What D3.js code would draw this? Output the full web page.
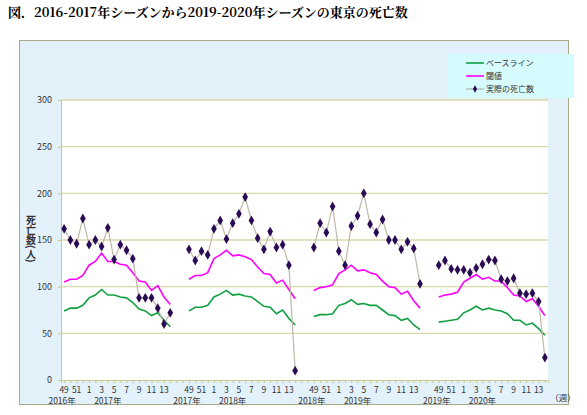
<!DOCTYPE html>
<html><head><meta charset="utf-8">
<script src="https://cdn.jsdelivr.net/npm/d3@7"></script>
<style>body{margin:0;background:#fff}</style>
</head><body>
<svg id="c" width="587" height="415"></svg>
<script>
// weeks of each season
var weeks = [49,50,51,52,1,2,3,4,5,6,7,8,9,10,11,12,13,14];
var seasonYears = [["2016年","2017年"],["2017年","2018年"],["2018年","2019年"],["2019年","2020年"]];
var actual = [
  [162,150,146,173,145,150,143,163,129,145,139,130,88,88,88,77,60,72],
  [140,128,138,134,162,171,151,168,178,196,171,152,140,159,142,145,123,10],
  [142,168,158,186,138,123,165,176,200,167,158,172,150,150,140,148,141,103],
  [123,128,119,118,118,115,120,124,129,128,108,106,109,93,92,93,84,24]
];
var threshold = [
  [105,108,108,112,123,127,136,127,127,124,123,115,106,105,96,101,89,81],
  [108,112,112,115,130,134,139,133,134,132,129,121,114,113,104,107,97,87],
  [96,99,100,102,114,118,123,117,118,115,113,106,100,99,92,95,85,77],
  [89,91,92,94,105,109,113,108,110,106,106,99,91,90,84,87,79,69]
];
var baseline = [
  [74,77,77,80,88,91,97,91,91,89,88,83,76,74,69,72,64,57],
  [74,78,78,80,89,92,96,91,92,90,89,84,79,78,71,75,66,59],
  [68,70,70,71,80,82,86,81,82,80,80,75,70,69,64,66,59,54],
  [62,63,64,65,72,75,79,75,77,75,74,71,64,64,59,61,55,48]
];
var yTicks = [0,50,100,150,200,250,300];
var legendNames = ["ベースライン","閾値","実際の死亡数"];

var svg = d3.select('#c');
var font = '"Noto Sans CJK JP", sans-serif';

svg.append('text').attr('x',8).attr('y',17)
  .attr('font-family','"Noto Serif CJK JP","DejaVu Serif",serif').attr('font-weight','bold')
  .attr('font-size',13).text('図．2016-2017年シーズンから2019-2020年シーズンの東京の死亡数');

// panel
svg.append('rect').attr('x',19.5).attr('y',40.5).attr('width',549).attr('height',364)
  .attr('fill','#e3f1fb').attr('stroke','#a9a98a');

var nSlots = 78, x0 = 61, x1 = 548;
var x = d3.scaleLinear().domain([-0.5, nSlots-0.5]).range([x0, x1]);
var y = d3.scaleLinear().domain([0,300]).range([380,100]);
svg.append('rect').attr('x',x0).attr('y',100).attr('width',x1-x0).attr('height',280).attr('fill','#fff');

// grid
svg.append('g').selectAll('line').data(yTicks.slice(1)).join('line')
  .attr('x1',x0).attr('x2',x1).attr('y1',d=>y(d)).attr('y2',d=>y(d))
  .attr('stroke','#d8d8a8').attr('stroke-width',1.3);

var yAxis = svg.append('g').attr('transform','translate('+x0+',0)')
  .call(d3.axisLeft(y).tickValues(yTicks).tickSize(3).tickPadding(6));
yAxis.select('.domain').attr('stroke','#c8c890');
yAxis.selectAll('line').attr('stroke','#c8c890');
yAxis.selectAll('text').attr('font-family',font).attr('font-size',9).attr('fill','#333');

var xAxis = svg.append('g').attr('transform','translate(0,380)')
  .call(d3.axisBottom(x).tickValues(d3.range(nSlots)).tickSize(3).tickFormat(''));
xAxis.select('.domain').attr('stroke','#c8c890');
xAxis.selectAll('line').attr('stroke','#c8c890');

var ax = svg.append('g').attr('font-family',font).attr('font-size',8.5).attr('fill','#333').attr('text-anchor','middle');
seasonYears.forEach(function(yrs, s) {
  weeks.forEach(function(w, i) {
    if (i % 2 == 0) ax.append('text').attr('x',x(s*20+i)).attr('y',393).text(w);
  });
  ax.append('text').attr('x',x(s*20)-2).attr('y',404).text(yrs[0]);
  ax.append('text').attr('x',x(s*20+7)).attr('y',404).text(yrs[1]);
});
ax.append('text').attr('x',563).attr('y',401).text('（週）');

// y label
svg.append('text').attr('font-family',font).attr('font-size',10).attr('font-weight','bold')
  .attr('fill','#333').attr('x',31).attr('y',215)
  .style('writing-mode','vertical-rl').text('死亡数(人)');

var line = d3.line().x(d=>x(d[0])).y(d=>y(d[1]));
function pts(arr, s){ return arr.map((v,i)=>[s*20+i, v]); }

for (var s = 0; s < 4; s++) {
  svg.append('path').attr('d',line(pts(baseline[s],s))).attr('fill','none').attr('stroke','#10a040').attr('stroke-width',1.6);
  svg.append('path').attr('d',line(pts(threshold[s],s))).attr('fill','none').attr('stroke','#ff00ff').attr('stroke-width',1.6);
  svg.append('path').attr('d',line(pts(actual[s],s))).attr('fill','none').attr('stroke','#c0b8a8').attr('stroke-width',1.2);
  svg.append('g').selectAll('path').data(pts(actual[s],s)).join('path')
    .attr('d',d3.symbol(d3.symbolDiamond,28))
    .attr('transform',d=>'translate('+x(d[0])+','+y(d[1])+')')
    .attr('fill','#2a0a55');
}

// legend
var lg = svg.append('g');
lg.append('rect').attr('x',447).attr('y',54).attr('width',127).attr('height',44).attr('fill','#d6fbff');
var colors = ['#10a040','#ff00ff','#b8c8c0'];
legendNames.forEach(function(n, i) {
  var yy = 63 + i*13;
  lg.append('line').attr('x1',466).attr('x2',484).attr('y1',yy).attr('y2',yy).attr('stroke',colors[i]).attr('stroke-width',1.6);
  if (i == 2) lg.append('path').attr('d',d3.symbol(d3.symbolDiamond,16)).attr('transform','translate(475,'+yy+')').attr('fill','#2a0a55');
  lg.append('text').attr('x',486).attr('y',yy+3).attr('font-family',font).attr('font-size',8).attr('fill','#333').text(n);
});
</script>
</body></html>
